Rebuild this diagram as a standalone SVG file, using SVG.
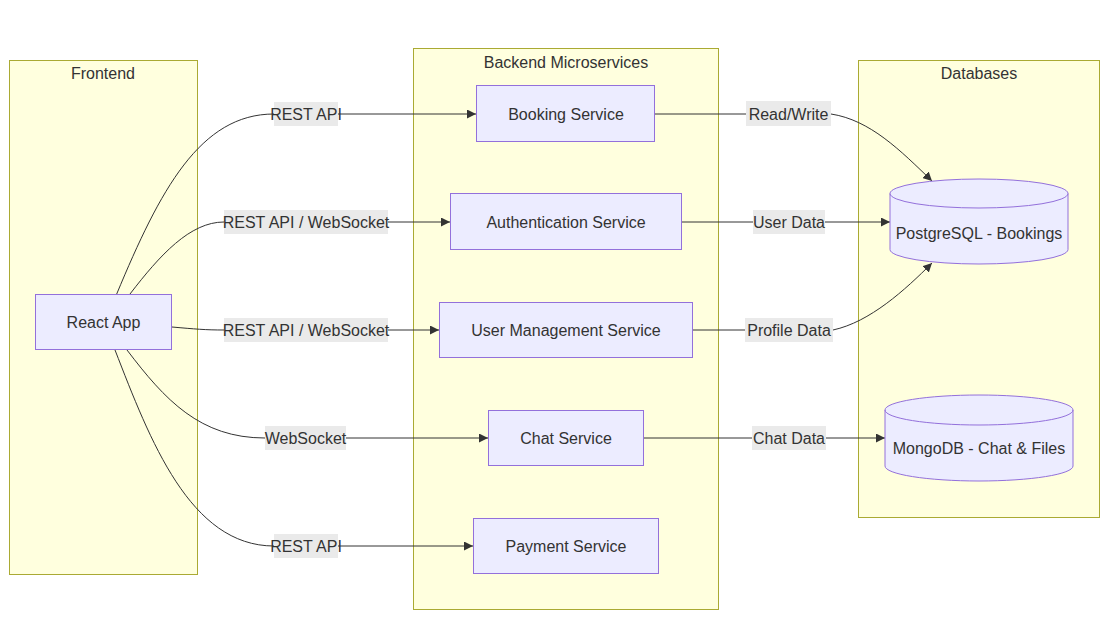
<svg xmlns="http://www.w3.org/2000/svg" width="1105" height="627" viewBox="0 0 1105 627">
<style>
.cluster{fill:#ffffde;stroke:#aaaa33;stroke-width:1}
.node{fill:#ECECFF;stroke:#9370DB;stroke-width:1}
text{font-family:"Liberation Sans",Arial,sans-serif;font-size:16px;fill:#333;text-anchor:middle;dominant-baseline:central}
.edge{fill:none;stroke:#333;stroke-width:1}
.lbl{fill:#e8e8e8;opacity:0.9}
</style>
<defs>
<marker id="arr" viewBox="0 0 10 10" refX="10" refY="5" markerWidth="9" markerHeight="9" markerUnits="userSpaceOnUse" orient="auto">
<path d="M0,0 L10,5 L0,10 z" fill="#333"/>
</marker>
</defs>
<rect width="1105" height="627" fill="#fff"/>
<g id="cluster-frontend">
<rect class="cluster" x="9.5" y="60.5" width="188" height="514"/>
<text x="103" y="73">Frontend</text>
</g>
<g id="cluster-backend">
<rect class="cluster" x="413.5" y="48.5" width="305" height="561"/>
<text x="566" y="62">Backend Microservices</text>
</g>
<g id="cluster-databases">
<rect class="cluster" x="858.5" y="60.5" width="241" height="457"/>
<text x="979" y="73">Databases</text>
</g>
<g id="connectors">
<path class="edge" d="M116.7,294 C160,190 200,114 274,114"/>
<path class="edge" d="M338,114 L476,114" marker-end="url(#arr)"/>
<path class="edge" d="M130,294 C160,255 190,222 224,222"/>
<path class="edge" d="M388,222 L450,222" marker-end="url(#arr)"/>
<path class="edge" d="M172,327 C195,329 205,330 224,330"/>
<path class="edge" d="M388,330 L439,330" marker-end="url(#arr)"/>
<path class="edge" d="M127,350 C165,400 200,438 265,438"/>
<path class="edge" d="M346,438 L488,438" marker-end="url(#arr)"/>
<path class="edge" d="M115,350 C150,440 190,546 274,546"/>
<path class="edge" d="M338,546 L473,546" marker-end="url(#arr)"/>
<path class="edge" d="M655,114 L746,114"/>
<path class="edge" d="M831,114 C870,120 900,150 932,181" marker-end="url(#arr)"/>
<path class="edge" d="M682,222 L753,222"/>
<path class="edge" d="M825,222 L890,222" marker-end="url(#arr)"/>
<path class="edge" d="M693,330 L745,330"/>
<path class="edge" d="M833,330 C870,322 905,290 932,263" marker-end="url(#arr)"/>
<path class="edge" d="M644,438 L752,438"/>
<path class="edge" d="M826,438 L885,438" marker-end="url(#arr)"/>
<g id="edge-labels">
<rect class="lbl" x="274" y="102" width="64" height="24"/><text x="306" y="114">REST API</text>
<rect class="lbl" x="224" y="210" width="164" height="24"/><text x="306" y="222">REST API / WebSocket</text>
<rect class="lbl" x="224" y="318" width="164" height="24"/><text x="306" y="330">REST API / WebSocket</text>
<rect class="lbl" x="265" y="426" width="81" height="24"/><text x="305.5" y="438">WebSocket</text>
<rect class="lbl" x="274" y="534" width="64" height="24"/><text x="306" y="546">REST API</text>
<rect class="lbl" x="746" y="101" width="85" height="25"/><text x="788.5" y="114">Read/Write</text>
<rect class="lbl" x="753" y="210" width="72" height="24"/><text x="789" y="222">User Data</text>
<rect class="lbl" x="745" y="318" width="88" height="24"/><text x="789" y="330">Profile Data</text>
<rect class="lbl" x="752" y="426" width="74" height="24"/><text x="789" y="438">Chat Data</text>
</g>
</g>
<g id="node-react">
<rect class="node" x="35.5" y="294.5" width="136" height="55"/>
<text x="103.5" y="322">React App</text>
</g>
<g id="node-booking">
<rect class="node" x="476.5" y="85.5" width="178" height="56"/>
<text x="566" y="114">Booking Service</text>
</g>
<g id="node-auth">
<rect class="node" x="450.5" y="193.5" width="231" height="56"/>
<text x="566" y="222">Authentication Service</text>
</g>
<g id="node-user">
<rect class="node" x="439.5" y="302.5" width="253" height="55"/>
<text x="566" y="330">User Management Service</text>
</g>
<g id="node-chat">
<rect class="node" x="488.5" y="410.5" width="155" height="55"/>
<text x="566" y="438">Chat Service</text>
</g>
<g id="node-payment">
<rect class="node" x="473.5" y="518.5" width="185" height="55"/>
<text x="566" y="546">Payment Service</text>
</g>
<g id="node-postgres">
<path class="node" d="M890,193.5 A89,14.5 0 0 1 1068,193.5 L1068,249.5 A89,14.5 0 0 1 890,249.5 Z"/>
<path class="node" style="fill:none" d="M890,193.5 A89,14.5 0 0 0 1068,193.5"/>
<text x="979" y="233">PostgreSQL - Bookings</text>
</g>
<g id="node-mongo">
<path class="node" d="M885,410 A94,15 0 0 1 1073,410 L1073,466 A94,15 0 0 1 885,466 Z"/>
<path class="node" style="fill:none" d="M885,410 A94,15 0 0 0 1073,410"/>
<text x="979" y="448">MongoDB - Chat &amp; Files</text>
</g>
</svg>
